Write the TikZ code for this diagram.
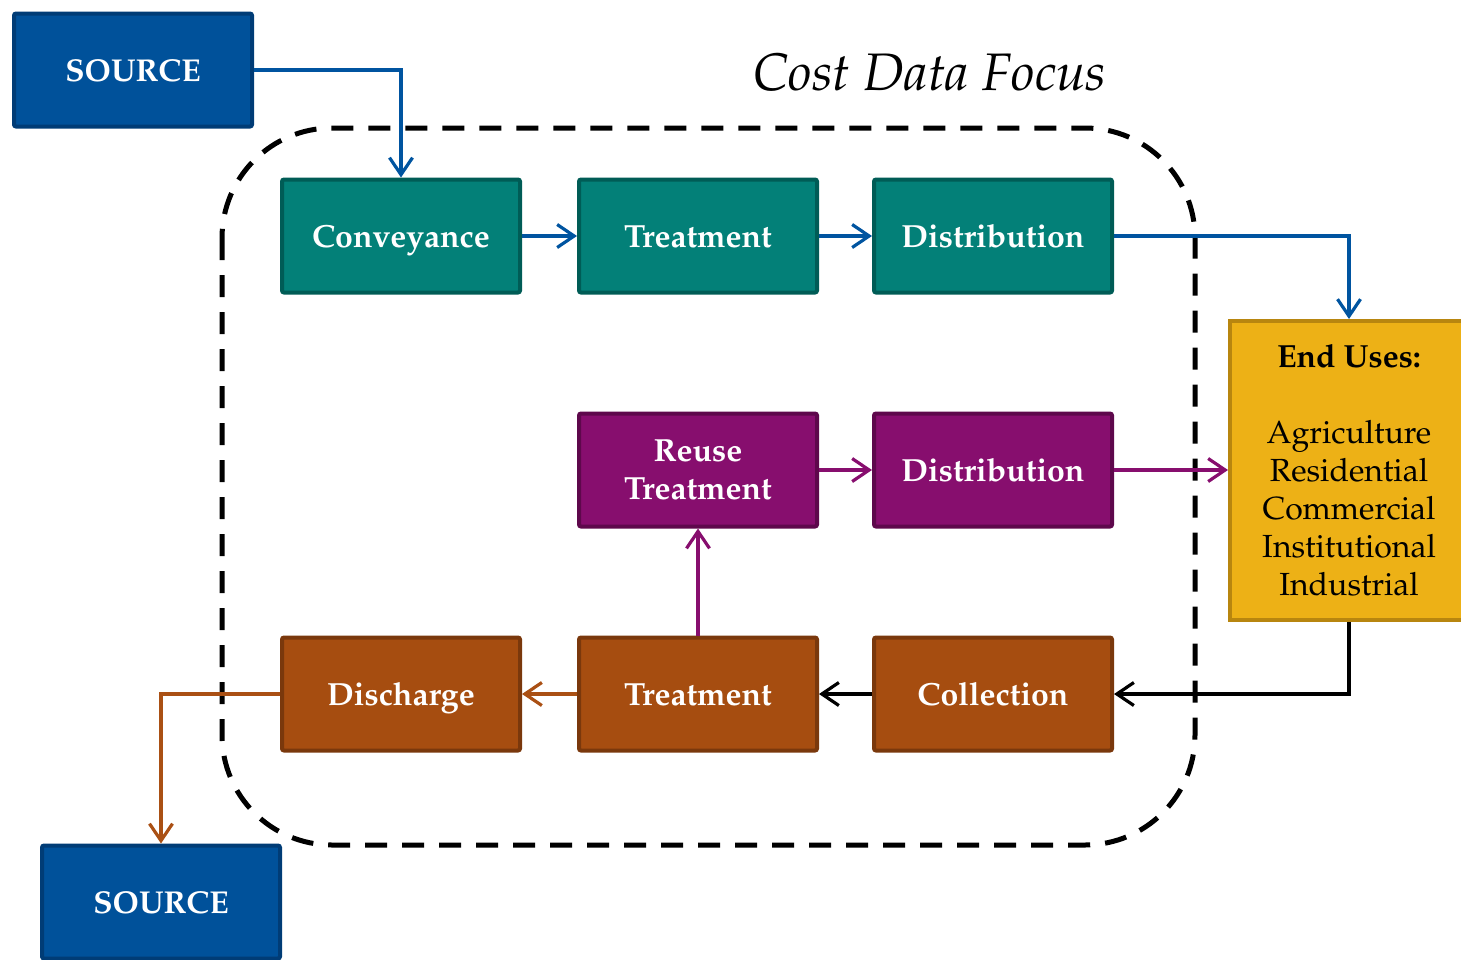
\documentclass[tikz,border=0pt]{standalone}
\usepackage[T1]{fontenc}
\renewcommand{\rmdefault}{ppl}
\usetikzlibrary{arrows.meta}

\definecolor{srcfill}{RGB}{0,81,154}
\definecolor{srcline}{RGB}{0,60,118}
\definecolor{tealfill}{RGB}{3,128,120}
\definecolor{tealline}{RGB}{0,92,86}
\definecolor{purpfill}{RGB}{135,14,110}
\definecolor{purpline}{RGB}{94,8,76}
\definecolor{brownfill}{RGB}{166,77,16}
\definecolor{brownline}{RGB}{122,56,12}
\definecolor{goldfill}{RGB}{237,177,22}
\definecolor{goldline}{RGB}{184,134,15}
\definecolor{bluelink}{RGB}{0,84,160}
\definecolor{purplink}{RGB}{135,14,110}
\definecolor{brownlink}{RGB}{170,80,20}

\tikzset{
  box/.style={rectangle, rounded corners=1pt, line width=2pt,
    minimum width=119pt, minimum height=56.5pt, inner sep=0pt,
    text=white, align=center,
    font=\fontsize{16}{19}\selectfont\bfseries},
  oneline/.style={text height=11.5pt, text depth=0pt},
  srcbox/.style={box, oneline, fill=srcfill, draw=srcline,
    font=\fontsize{15.8}{19}\selectfont\bfseries},
  tealbox/.style={box, oneline, fill=tealfill, draw=tealline},
  purpbox/.style={box, fill=purpfill, draw=purpline},
  brownbox/.style={box, oneline, fill=brownfill, draw=brownline},
  link/.style={line width=1.6pt,
    -{Straight Barb[length=8.5pt,width=11.5pt,line width=1.6pt]}},
  bluelk/.style={link, draw=bluelink},
  purplk/.style={link, draw=purplink},
  brownlk/.style={link, draw=brownlink},
  blacklk/.style={link, draw=black},
}

\begin{document}
\begin{tikzpicture}[x=0.5pt, y=-0.5pt]
  \useasboundingbox (0,0) rectangle (1461,959);

  % boundary of the cost data focus
  \draw[line width=2.5pt, dash pattern=on 11pt off 7.5pt, rounded corners=55pt]
    (222,128) rectangle (1195,845);
  \node[anchor=base, font=\fontsize{26.4}{30}\selectfont\itshape]
    (title) at (930,90) {Cost Data Focus};

  % process boxes
  \node[srcbox]   (src1)  at (133,70)  {SOURCE};
  \node[tealbox]  (conv)  at (401,236) {Conveyance};
  \node[tealbox]  (trt1)  at (698,236) {Treatment};
  \node[tealbox]  (dist1) at (993,236) {Distribution};
  \node[purpbox]  (reuse) at (698,470) {Reuse\\Treatment};
  \node[purpbox, oneline] (dist2) at (993,470) {Distribution};
  \node[brownbox] (dis)   at (401,694) {Discharge};
  \node[brownbox] (trt2)  at (698,694) {Treatment};
  \node[brownbox] (coll)  at (993,694) {Collection};
  \node[srcbox]   (src2)  at (161,902) {SOURCE};

  % end uses
  \node[rectangle, line width=2pt, fill=goldfill, draw=goldline,
        minimum width=119pt, minimum height=149.5pt, inner sep=0pt,
        align=center, font=\fontsize{16}{19}\selectfont]
    (end) at (1349,470.5)
    {\textbf{End Uses:}\\[19pt]Agriculture\\Residential\\Commercial\\Institutional\\Industrial};

  % connectors
  \draw[bluelk] (src1.east) -| (conv.north);
  \draw[bluelk] (conv) -- (trt1);
  \draw[bluelk] (trt1) -- (dist1);
  \draw[bluelk] (dist1.east) -| (end.north);
  \draw[purplk] (reuse) -- (dist2);
  \draw[purplk] (dist2.east) -- (dist2.east -| end.west);
  \draw[purplk] (trt2) -- (reuse);
  \draw[blacklk] (end.south) |- (coll.east);
  \draw[blacklk] (coll) -- (trt2);
  \draw[brownlk] (trt2) -- (dis);
  \draw[brownlk] (dis.west) -| (src2.north);
\end{tikzpicture}
\end{document}
